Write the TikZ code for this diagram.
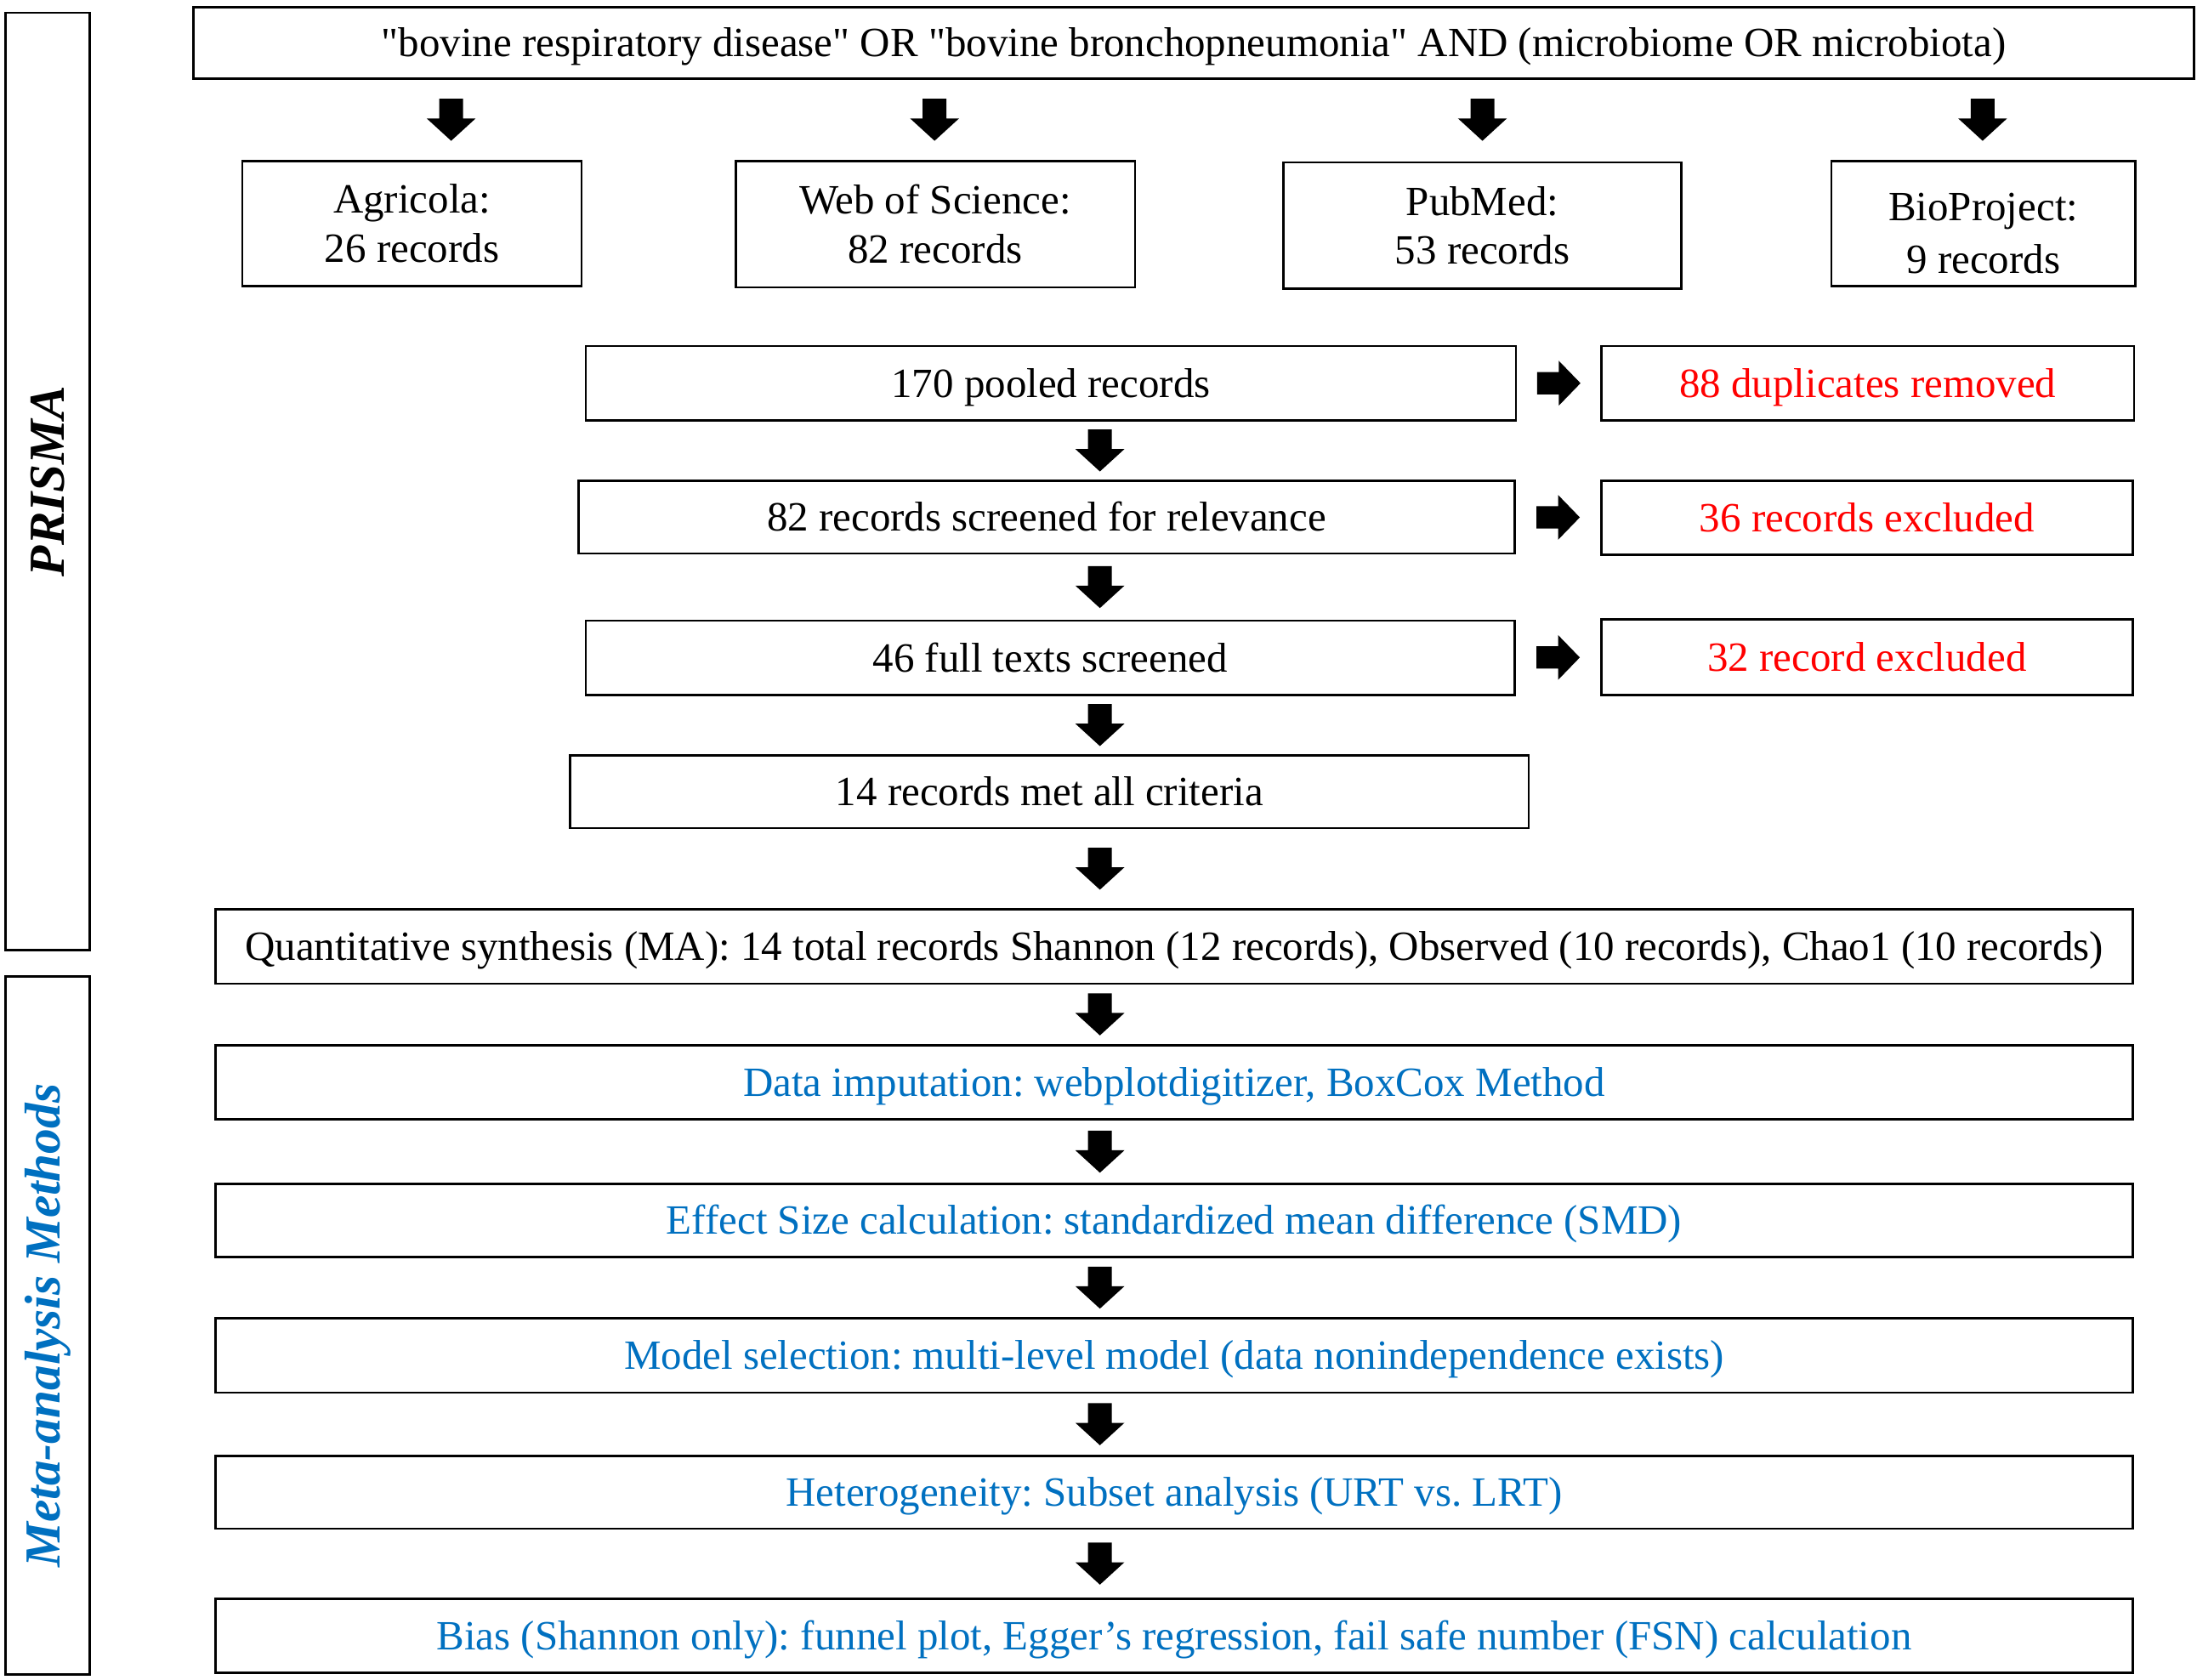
\documentclass[tikz,border=0pt]{standalone}
\usepackage{fontspec}
\setmainfont{Liberation Serif}[Ligatures=TeXOff]
\usetikzlibrary{calc}
\definecolor{mablue}{RGB}{0,112,192}
\definecolor{exred}{RGB}{255,0,0}
\newcommand{\mainfs}{\fontsize{14.85}{17.5}\selectfont}
\newcommand{\sidefs}{\fontsize{18}{20}\selectfont\bfseries\itshape}
\frenchspacing
\begin{document}
\begin{tikzpicture}[x=0.5pt,y=-0.5pt,
  bx/.style 2 args={draw, line width=0.8pt, inner sep=0pt, align=center,
    minimum width=#1*0.5pt, minimum height=#2*0.5pt, font=\mainfs},
  one/.style={text height=13pt, text depth=3pt},
  side/.style 2 args={draw, line width=0.8pt, inner sep=0pt, rotate=90,
    minimum width=#2*0.5pt, minimum height=#1*0.5pt, font=\sidefs},
  redtxt/.style={text=exred},
  bluetxt/.style={text=mablue},
  downblk/.pic={\fill (-8.5,-15) -- (8.5,-15) -- (8.5,-1) -- (17.5,-1) -- (0,15) -- (-17.5,-1) -- (-8.5,-1) -- cycle;},
  rightblk/.pic={\fill (-15.5,-8) -- (0,-8) -- (0,-16) -- (15.5,0) -- (0,16) -- (0,8) -- (-15.5,8) -- cycle;}
]
\path[use as bounding box] (0,0) rectangle (1568,1199);

% side boxes
\node[side={60}{669}] (prisma) at (34,343.5) {PRISMA};
\node[side={60}{498}, text=mablue] (meta) at (34,946) {Meta-analysis Methods};

% query and sources
\node[bx={1428}{51}, one] (top) at (852,30.5) {"bovine respiratory disease" OR "bovine bronchopneumonia" AND (microbiome OR microbiota)};
\node[bx={242}{89}] (agri) at (294,159.5) {Agricola:\\26 records};
\node[bx={285}{90}] (wos) at (667.5,160) {Web of Science:\\82 records};
\node[bx={284}{90}] (pub) at (1058,161) {PubMed:\\53 records};
\node[bx={217}{89}] (bio) at (1415.5,159.5) {};
\node[font=\mainfs, align=center, inner sep=0pt] (biotxt) at ([yshift=-3.5pt]bio.center) {BioProject:\\[1.5pt]9 records};

% screening
\node[bx={664}{53}, one] (pooled) at (750,273.5) {170 pooled records};
\node[bx={380}{53}, one, redtxt] (dup) at (1333,273.5) {88 duplicates removed};
\node[bx={668}{52}, one] (screen) at (747,369) {82 records screened for relevance};
\node[bx={379}{53}, one, redtxt] (ex36) at (1332.5,369.5) {36 records excluded};
\node[bx={663}{53}, one] (full) at (749.5,469.5) {46 full texts screened};
\node[bx={379}{54}, one, redtxt] (ex32) at (1332.5,469) {32 record excluded};
\node[bx={684}{52}, one] (met) at (749,565) {14 records met all criteria};

% synthesis and methods
\node[bx={1368}{53}, one] (quant) at (838,675.5) {Quantitative synthesis (MA): 14 total records Shannon (12 records), Observed (10 records), Chao1 (10 records)};
\node[bx={1368}{53}, one, bluetxt] (imput) at (838,772.5) {Data imputation: webplotdigitizer, BoxCox Method};
\node[bx={1368}{52}, one, bluetxt] (effect) at (838,871) {Effect Size calculation: standardized mean difference (SMD)};
\node[bx={1368}{53}, one, bluetxt] (model) at (838,967.5) {Model selection: multi-level model (data nonindependence exists)};
\node[bx={1368}{52}, one, bluetxt] (het) at (838,1065) {Heterogeneity: Subset analysis (URT vs. LRT)};
\node[bx={1368}{53}, one, bluetxt] (bias) at (838,1167.5) {Bias (Shannon only): funnel plot, Egger’s regression, fail safe number (FSN) calculation};

% arrow columns
\coordinate (col) at (785,0);
\coordinate (c1) at (322,0);
\coordinate (c2) at (667,0);
\coordinate (c3) at (1058,0);
\coordinate (c4) at (1415,0);

% top row arrows
\coordinate (t1) at ($(top.south)!0.5!(wos.north)$);
\pic at (c1 |- t1) {downblk};
\pic at (c2 |- t1) {downblk};
\pic at (c3 |- t1) {downblk};
\pic at (c4 |- t1) {downblk};

% main column arrows
\coordinate (m1) at ($(pooled.south)!0.5!(screen.north)$);
\coordinate (m2) at ($(screen.south)!0.5!(full.north)$);
\coordinate (m3) at ($(full.south)!0.5!(met.north)$);
\coordinate (m4) at ($(met.south)!0.5!(quant.north)$);
\coordinate (m5) at ($(quant.south)!0.5!(imput.north)$);
\coordinate (m6) at ($(imput.south)!0.5!(effect.north)$);
\coordinate (m7) at ($(effect.south)!0.5!(model.north)$);
\coordinate (m8) at ($(model.south)!0.5!(het.north)$);
\coordinate (m9) at ($(het.south)!0.5!(bias.north)$);
\foreach \m in {m1,m2,m3,m4,m5,m6,m7,m8,m9}{\pic at (col |- \m) {downblk};}

% right arrows
\coordinate (r1) at ($(pooled.east)!0.5!(dup.west)$);
\coordinate (r2) at ($(screen.east)!0.5!(ex36.west)$);
\coordinate (r3) at ($(full.east)!0.5!(ex32.west)$);
\pic at (r1) {rightblk};
\pic at (r2) {rightblk};
\pic at (r3) {rightblk};
\end{tikzpicture}
\end{document}
